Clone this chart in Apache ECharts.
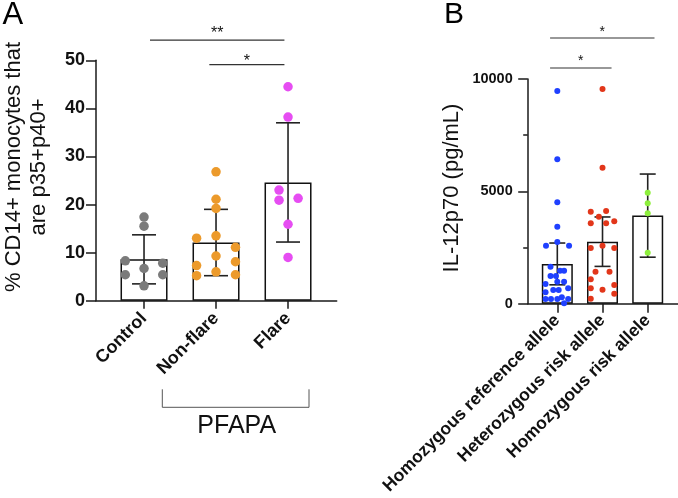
<!DOCTYPE html>
<html><head><meta charset="utf-8">
<script src="https://cdn.jsdelivr.net/npm/echarts@6/dist/echarts.min.js"></script>
<style>html,body{margin:0;padding:0;background:#fff}#c{width:678px;height:498px}</style>
</head><body><div id="c"></div>
<script>
// ---------- Panel A data ----------
const categoriesA = ['Control', 'Non-flare', 'Flare'];
const meanA = [8.6, 12.1, 24.6];
const sdA = [5.1, 6.9, 12.4];
const pointsControl = [17.4, 15.5, 8.3, 7.8, 6.7, 5.4, 5.4, 3.1];
const jitterControl = [0, 0, -0.26, 0.26, 0, -0.26, 0.26, 0];
const pointsNonFlare = [26.8, 21.1, 19.2, 13.0, 13.5, 11.1, 9.3, 7.3, 8.1, 6.0, 5.2, 5.4];
const jitterNonFlare = [0, 0, 0, -0.27, 0, 0.27, 0, -0.27, 0.27, 0, -0.27, 0.27];
const pointsFlare = [44.5, 38.2, 23.0, 20.9, 21.3, 15.9, 9.0];
const jitterFlare = [0, 0, -0.125, -0.125, 0.14, 0, 0];
const ticksA = [0, 10, 20, 30, 40, 50];
// significance: [from, to, lineY, labelY]
const sigA = [[0.083, 1.95, 54.2, 55.6], [0.907, 1.95, 49.1, 49.8]];
const sigLabelsA = ['**', '*'];

// ---------- Panel B data ----------
const categoriesB = ['Homozygous reference allele', 'Heterozygous risk allele', 'Homozygous risk allele'];
const meanB = [1770, 2760, 3920];
const errB = [930, 1100, 1850];
const pointsRef = [9466, 6426, 4513, 3427, 2581, 2746, 2581, 1647, 1469, 1469, 1233, 1233, 877, 979, 979, 507, 610, 610, 685, 209, 209, 209, 285, 209, 18];
const jitterRef = [0, 0, 0, 0, -0.25, 0, 0.26, -0.15, 0.06, 0.15, -0.15, -0.03, -0.26, 0, 0.15, -0.26, -0.09, 0.03, 0.24, -0.26, -0.14, 0, 0.1, 0.24, 0.15];
const pointsHet = [9555, 6053, 4094, 4125, 3872, 3578, 3578, 3667, 2581, 2479, 2479, 1424, 1424, 1086, 685, 623, 832, 445, 223];
const jitterHet = [0, 0, -0.26, 0.08, -0.08, -0.26, 0.08, 0.26, 0, -0.26, 0.26, -0.155, 0.155, -0.26, -0.26, 0, 0.26, 0.26, -0.26];
const pointsHomRisk = [4940, 4468, 4023, 2270];
const jitterHomRisk = [0, 0, 0, 0];
const ticksB = [0, 5000, 10000];
const sigB = [[-0.16, 2.15, 11825, 12096], [-0.16, 1.20, 10490, 10788]];
const sigLabelsB = ['*', '*'];

const FONT = 'Liberation Sans, Arial, Helvetica, sans-serif';
const AX = '#1a1a1a';

function pts(vals, jit, idx) { return vals.map((v, k) => [idx + jit[k], v]); }

function errRender(capW) {
  return function (params, api) {
    const x = api.value(0), m = api.value(1), s = api.value(2);
    const t = api.coord([x, m + s]), b = api.coord([x, m - s]);
    const st = { stroke: '#222', lineWidth: 1.6 };
    return { type: 'group', children: [
      { type: 'line', shape: { x1: t[0], y1: t[1], x2: b[0], y2: b[1] }, style: st },
      { type: 'line', shape: { x1: t[0] - capW / 2, y1: t[1], x2: t[0] + capW / 2, y2: t[1] }, style: st },
      { type: 'line', shape: { x1: b[0] - capW / 2, y1: b[1], x2: b[0] + capW / 2, y2: b[1] }, style: st }
    ]};
  };
}
function sigRender(labels, fs) {
  return function (params, api) {
    const a = api.coord([api.value(0), api.value(2)]);
    const b = api.coord([api.value(1), api.value(2)]);
    const l = api.coord([(api.value(0) + api.value(1)) / 2, api.value(3)]);
    return { type: 'group', children: [
      { type: 'line', shape: { x1: a[0], y1: a[1], x2: b[0], y2: b[1] }, style: { stroke: '#333', lineWidth: 1.2 } },
      { type: 'text', x: l[0], y: l[1], style: { text: labels[params.dataIndex], fill: '#111', font: fs + 'px ' + FONT, align: 'center', verticalAlign: 'middle' } }
    ]};
  };
}

const chart = echarts.init(document.getElementById('c'), null, { renderer: 'canvas' });
chart.setOption({
  animation: false,
  backgroundColor: '#fff',
  textStyle: { fontFamily: FONT },
  grid: [
    { left: 96, top: 60.3, width: 240.7, height: 240.4 },
    { left: 527.7, top: 79, width: 150.3, height: 224.7 }
  ],
  xAxis: [
    { type: 'value', gridIndex: 0, min: -0.667, max: 2.676, splitLine: { show: false },
      axisLine: { show: true, onZero: false, lineStyle: { color: AX, width: 1.5 } },
      axisTick: { show: true, customValues: [0, 1, 2], length: 8, lineStyle: { color: AX, width: 1.5 } },
      axisLabel: { customValues: [0, 1, 2], formatter: v => categoriesA[Math.round(v)] || '', rotate: 45, margin: 15,
        fontSize: 18, fontWeight: 'bold', color: '#111', fontFamily: FONT } },
    { type: 'value', gridIndex: 1, min: -0.655, max: 2.67, splitLine: { show: false },
      axisLine: { show: true, onZero: false, lineStyle: { color: AX, width: 1.5 } },
      axisTick: { show: true, customValues: [0, 1, 2], length: 9, lineStyle: { color: AX, width: 1.5 } },
      axisLabel: { customValues: [0, 1, 2], formatter: v => categoriesB[Math.round(v)] || '', rotate: 45, margin: 14,
        fontSize: 17.5, fontWeight: 'bold', color: '#111', fontFamily: FONT } }
  ],
  yAxis: [
    { type: 'value', gridIndex: 0, min: 0, max: 50, interval: 10, splitLine: { show: false },
      axisLine: { show: true, onZero: false, lineStyle: { color: AX, width: 1.5 } },
      axisTick: { show: true, length: 10, lineStyle: { color: AX, width: 1.5 } },
      axisLabel: { margin: 11, fontSize: 18, fontWeight: 'bold', color: '#111', fontFamily: FONT, formatter: v => String(v) } },
    { type: 'value', gridIndex: 1, min: 0, max: 10000, interval: 5000, splitLine: { show: false },
      axisLine: { show: true, onZero: false, lineStyle: { color: AX, width: 1.5 } },
      axisTick: { show: true, length: 9.5, lineStyle: { color: AX, width: 1.5 } },
      minorTick: { show: true, splitNumber: 2, length: 4.5, lineStyle: { color: AX, width: 1.5 } },
      axisLabel: { margin: 15, fontSize: 14.5, fontWeight: 'bold', color: '#111', fontFamily: FONT, formatter: v => String(v) } }
  ],
  series: [
    // Panel A
    { type: 'bar', xAxisIndex: 0, yAxisIndex: 0, barWidth: 47, data: meanA.map((m, i) => [i, m]),
      itemStyle: { color: '#fff', borderColor: '#111', borderWidth: 1.5 }, z: 1 },
    { type: 'custom', xAxisIndex: 0, yAxisIndex: 0, data: meanA.map((m, i) => [i, m, sdA[i]]), renderItem: errRender(24), z: 2 },
    { type: 'scatter', xAxisIndex: 0, yAxisIndex: 0, data: pts(pointsControl, jitterControl, 0), symbolSize: 9.5, itemStyle: { color: '#7b7b7b', opacity: 1 }, z: 3 },
    { type: 'scatter', xAxisIndex: 0, yAxisIndex: 0, data: pts(pointsNonFlare, jitterNonFlare, 1), symbolSize: 9.5, itemStyle: { color: '#EC9A2B', opacity: 1 }, z: 3 },
    { type: 'scatter', xAxisIndex: 0, yAxisIndex: 0, data: pts(pointsFlare, jitterFlare, 2), symbolSize: 9.5, itemStyle: { color: '#E64DF2', opacity: 1 }, z: 3 },
    { type: 'custom', xAxisIndex: 0, yAxisIndex: 0, data: sigA, renderItem: sigRender(sigLabelsA, 16), clip: false, z: 4 },
    // Panel B
    { type: 'bar', xAxisIndex: 1, yAxisIndex: 1, barWidth: 31, data: meanB.map((m, i) => [i, m]),
      itemStyle: { color: '#fff', borderColor: '#111', borderWidth: 1.5 }, z: 1 },
    { type: 'custom', xAxisIndex: 1, yAxisIndex: 1, data: meanB.map((m, i) => [i, m, errB[i]]), renderItem: errRender(16), z: 2 },
    { type: 'scatter', xAxisIndex: 1, yAxisIndex: 1, data: pts(pointsRef, jitterRef, 0), symbolSize: 6, itemStyle: { color: '#1F40FF', opacity: 1 }, z: 3 },
    { type: 'scatter', xAxisIndex: 1, yAxisIndex: 1, data: pts(pointsHet, jitterHet, 1), symbolSize: 6, itemStyle: { color: '#E2361A', opacity: 1 }, z: 3 },
    { type: 'scatter', xAxisIndex: 1, yAxisIndex: 1, data: pts(pointsHomRisk, jitterHomRisk, 2), symbolSize: 6, itemStyle: { color: '#8EEF3C', opacity: 1 }, z: 3 },
    { type: 'custom', xAxisIndex: 1, yAxisIndex: 1, data: sigB, renderItem: sigRender(sigLabelsB, 14), clip: false, z: 4 }
  ],
  graphic: [
    { type: 'text', left: 2.5, top: 0, style: { text: 'A', font: '31px ' + FONT, fill: '#000' } },
    { type: 'text', left: 444, top: 0, style: { text: 'B', font: '30px ' + FONT, fill: '#000' } },
    { type: 'text', x: 26, y: 167, rotation: Math.PI / 2,
      style: { text: '% CD14+ monocytes that\nare p35+p40+', font: '22px ' + FONT, fill: '#111', align: 'center', verticalAlign: 'middle', lineHeight: 25 } },
    { type: 'text', x: 452, y: 188, rotation: Math.PI / 2,
      style: { text: 'IL-12p70 (pg/mL)', font: '22px ' + FONT, fill: '#111', align: 'center', verticalAlign: 'middle' } },
    { type: 'polyline', shape: { points: [[162.3, 389.3], [162.3, 407.3], [309, 407.3], [309, 389.3]] }, style: { stroke: '#555', lineWidth: 1, fill: null } },
    { type: 'text', x: 236.7, y: 426, style: { text: 'PFAPA', font: '25px ' + FONT, fill: '#111', align: 'center', verticalAlign: 'middle' } }
  ]
});
</script></body></html>
